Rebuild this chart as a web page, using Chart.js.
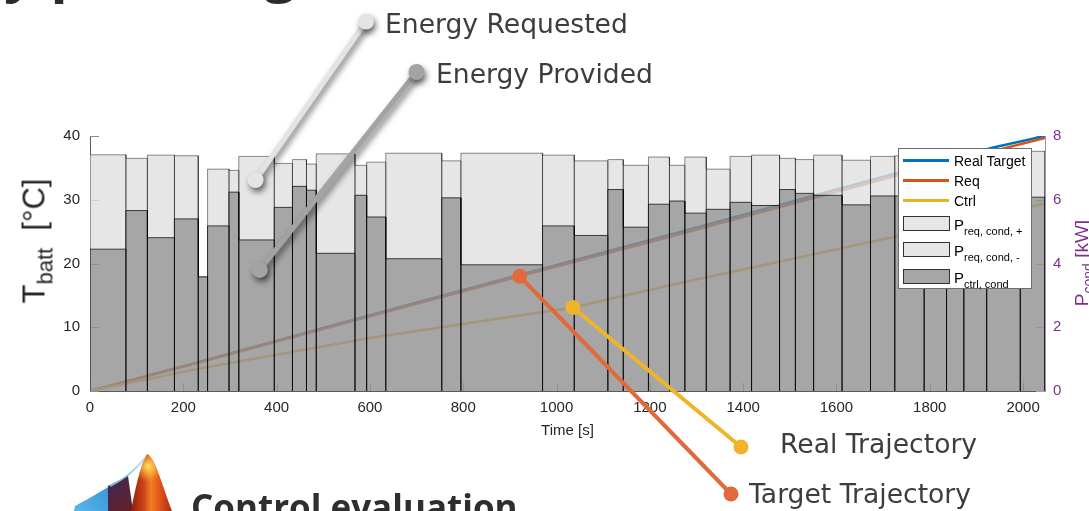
<!DOCTYPE html>
<html>
<head>
<meta charset="utf-8">
<script src="https://cdn.jsdelivr.net/npm/chart.js@4.4.1/dist/chart.umd.min.js"></script>
<style>
  html, body { margin: 0; padding: 0; background: #fff; }
  body { position: relative; width: 1089px; height: 511px; overflow: hidden; }
  #chart { position: absolute; left: 0; top: 0; }
  .slide-title { position: absolute; right: 793px; top: -59px; font: 700 56px 'Open Sans', sans-serif; color: #2b2b2b; line-height: 1; white-space: nowrap; }
  .section { position: absolute; left: 191px; top: 489px; font: 700 35px 'Open Sans', sans-serif; color: #2e2e2e; line-height: 1; white-space: nowrap; }
  .callout { position: absolute; font: 26.6px 'DejaVu Sans', sans-serif; color: #3d3d3d; line-height: 1; white-space: nowrap; }
  .axis-title { position: absolute; white-space: nowrap; line-height: 1; font-family: 'Liberation Sans', Arial, sans-serif; transform: translate(-50%, -50%) rotate(-90deg); }
  .axis-title sub { vertical-align: baseline; position: relative; }
  #ylabL { left: 34px; top: 241px; font-size: 31px; color: #262626; }
  #ylabL sub { font-size: 22px; top: 8px; }
  #ylabR { left: 1081px; top: 263px; font-size: 19px; color: #7E2F8E; }
  #ylabR sub { font-size: 14px; top: 5px; }
  #legend { position: absolute; left: 898px; top: 148px; width: 134px; height: 141px; box-sizing: border-box; border: 1px solid #6d6d6d; background: #fff; }
  .lg-line { position: absolute; left: 903px; width: 46px; height: 3px; }
  .lg-patch { position: absolute; left: 903px; width: 47px; height: 15px; box-sizing: border-box; border: 1.5px solid #333; }
  .lg-text { position: absolute; left: 954px; font: 14px 'Liberation Sans', Arial, sans-serif; color: #000; line-height: 16px; white-space: nowrap; }
  .lg-p { position: absolute; left: 954px; font: 15px 'Liberation Sans', Arial, sans-serif; color: #000; line-height: 15px; white-space: nowrap; }
  .lg-p sub { font-size: 11px; vertical-align: baseline; position: relative; top: 5px; }
  #logo { position: absolute; left: 60px; top: 440px; }
</style>
</head>
<body>
<canvas id="chart" width="1089" height="511"></canvas>
<canvas id="logo" width="120" height="71"></canvas>

<div class="slide-title">Trajectory planning</div>
<div class="section">Control evaluation</div>

<div class="callout" style="left:385px; top:11px;">Energy Requested</div>
<div class="callout" style="left:436px; top:61px;">Energy Provided</div>
<div class="callout" style="left:780px; top:431px;">Real Trajectory</div>
<div class="callout" style="left:749px; top:481px;">Target Trajectory</div>

<div id="ylabL" class="axis-title">T<sub>batt</sub>&nbsp;&nbsp;[°C]</div>
<div id="ylabR" class="axis-title">P<sub>cond</sub> [kW]</div>

<div id="legend"></div>
<div class="lg-line" style="top:158.5px; background:#0072BD;"></div>
<div class="lg-text" style="top:153px;">Real Target</div>
<div class="lg-line" style="top:178.5px; background:#D95319;"></div>
<div class="lg-text" style="top:173px;">Req</div>
<div class="lg-line" style="top:198.5px; background:#EDB120;"></div>
<div class="lg-text" style="top:193px;">Ctrl</div>
<div class="lg-patch" style="top:216px; background:#e6e6e6;"></div>
<div class="lg-p" style="top:216.5px;">P<sub>req, cond, +</sub></div>
<div class="lg-patch" style="top:242px; background:#e6e6e6;"></div>
<div class="lg-p" style="top:242.5px;">P<sub>req, cond, -</sub></div>
<div class="lg-patch" style="top:269px; background:#a6a6a6;"></div>
<div class="lg-p" style="top:269.5px;">P<sub>ctrl, cond</sub></div>

<script>
// Time bins of the conditioning schedule [s]
const binEdges = [0, 77, 123, 181, 232, 252, 298, 319, 395, 434, 464, 485, 568, 593, 634, 754, 795, 970,
  1038, 1110, 1143, 1197, 1242, 1275, 1321, 1372, 1418, 1478, 1512, 1551, 1612, 1673, 1725, 1788, 1836,
  1873, 1922, 1994, 2047];
// Requested conditioning power per bin [kW]
const reqPower = [7.41, 7.30, 7.40, 7.38, 3.58, 6.96, 6.92, 7.36, 7.14, 7.26, 7.12, 7.44, 7.08, 7.18,
  7.46, 7.22, 7.46, 7.40, 7.22, 7.26, 7.08, 7.34, 7.08, 7.34, 6.96, 7.36, 7.40, 7.30, 7.26, 7.40, 7.24,
  7.36, 7.38, 7.36, 7.20, 7.40, 7.32, 7.52];
// Power delivered by the controller per bin [kW]
const ctrlPower = [4.45, 5.66, 4.81, 5.40, 3.58, 5.18, 6.24, 4.74, 5.76, 6.42, 6.30, 4.32, 6.14, 5.46,
  4.15, 6.06, 3.96, 5.18, 4.88, 6.32, 5.14, 5.86, 5.96, 5.58, 5.70, 5.92, 5.82, 6.32, 6.20, 6.14, 5.84,
  6.12, 6.12, 6.10, 6.20, 5.90, 6.00, 6.08];

// Battery temperature trajectories [s] / [°C]
const targetTime = [0, 236, 600, 920, 1243, 1725, 1936, 2047];
const targetTemp = [0, 4.6, 11.9, 18.2, 24.5, 34.1, 38.2, 40.0];
const reqTime = [0, 236, 600, 920, 1243, 1725, 2047];
const reqTemp = [0, 4.5, 11.7, 18.0, 24.2, 33.7, 39.7];
const ctrlTime = [0, 236, 600, 1035, 1243, 1725, 2047];
const ctrlTemp = [0, 3.55, 8.3, 13.1, 16.6, 24.2, 29.4];

// Axis ranges and tick steps
const timeRange = [0, 2047];
const timeStep = 200;
const tempRange = [0, 40];
const tempStep = 10;
const powerRange = [0, 8];
const powerStep = 2;

const FONT = "'Liberation Sans', Arial, sans-serif";
const PURPLE = '#7E2F8E';

// Outline of consecutive bins as one closed step path (each bin drops back to zero)
function binOutline(heights) {
  const pts = [];
  heights.forEach((h, i) => {
    pts.push({x: binEdges[i], y: 0}, {x: binEdges[i], y: h}, {x: binEdges[i + 1], y: h}, {x: binEdges[i + 1], y: 0});
  });
  return pts;
}
const toPoints = (xs, ys) => xs.map((x, i) => ({x, y: ys[i]}));
const plainNumber = v => String(v);

// Short tick marks drawn inside the plot box
const innerTicks = {
  id: 'innerTicks',
  beforeDatasetsDraw(chart) {
    const {ctx, chartArea: a, scales} = chart;
    ctx.save();
    ctx.lineWidth = 1;
    ctx.strokeStyle = '#8c8c8c';
    ctx.beginPath();
    scales.x.ticks.forEach(tk => {
      const px = Math.round(scales.x.getPixelForValue(tk.value)) + 0.5;
      ctx.moveTo(px, a.bottom); ctx.lineTo(px, a.bottom - 8);
    });
    scales.y.ticks.forEach(tk => {
      const py = Math.round(scales.y.getPixelForValue(tk.value)) + 0.5;
      ctx.moveTo(a.left, py); ctx.lineTo(a.left + 9, py);
    });
    ctx.stroke();
    ctx.strokeStyle = '#b493bd';
    ctx.beginPath();
    scales.yP.ticks.forEach(tk => {
      const py = Math.round(scales.yP.getPixelForValue(tk.value)) + 0.5;
      ctx.moveTo(a.right, py); ctx.lineTo(a.right - 9, py);
    });
    ctx.stroke();
    ctx.restore();
  }
};

// Callout pointers: data anchor (time, temperature) -> label dot on the page
const callouts = [
  {anchor: {t: 355, T: 33.1}, label: {x: 366, y: 21.5}, color: '#e4e4e4', shadow: true},
  {anchor: {t: 364, T: 19.0}, label: {x: 416.5, y: 72}, color: '#a3a3a3', shadow: true},
  {anchor: {t: 921, T: 18.0}, label: {x: 731, y: 494}, color: '#e06a3c', shadow: false},
  {anchor: {t: 1035, T: 13.1}, label: {x: 741, y: 447}, color: '#f0b42a', shadow: false}
];
const calloutPlugin = {
  id: 'callouts',
  afterDraw(chart) {
    const {ctx, scales} = chart;
    callouts.forEach(c => {
      const ax = scales.x.getPixelForValue(c.anchor.t);
      const ay = scales.y.getPixelForValue(c.anchor.T);
      ctx.save();
      if (c.shadow) {
        ctx.shadowColor = 'rgba(0,0,0,0.55)';
        ctx.shadowBlur = 6;
        ctx.shadowOffsetX = 2;
        ctx.shadowOffsetY = 4;
      }
      ctx.strokeStyle = c.color;
      ctx.fillStyle = c.color;
      ctx.lineWidth = c.shadow ? 5 : 4;
      ctx.lineCap = 'round';
      ctx.beginPath();
      ctx.moveTo(ax, ay);
      ctx.lineTo(c.label.x, c.label.y);
      ctx.stroke();
      [[ax, ay], [c.label.x, c.label.y]].forEach(([px, py]) => {
        ctx.beginPath();
        ctx.arc(px, py, c.shadow ? 8 : 7.5, 0, Math.PI * 2);
        ctx.fill();
      });
      ctx.restore();
    });
  }
};

new Chart(document.getElementById('chart'), {
  type: 'line',
  data: {
    datasets: [
      {
        label: 'P ctrl, cond',
        yAxisID: 'yP',
        data: binOutline(ctrlPower),
        fill: 'origin',
        backgroundColor: 'rgba(144,144,144,0.8)',
        borderColor: 'rgba(0,0,0,0.72)',
        borderWidth: 1,
        borderJoinStyle: 'miter'
      },
      {
        label: 'P req, cond',
        yAxisID: 'yP',
        data: binOutline(reqPower),
        fill: 0,
        backgroundColor: 'rgba(224,224,224,0.8)',
        borderColor: 'rgba(0,0,0,0.45)',
        borderWidth: 1,
        borderJoinStyle: 'miter'
      },
      {
        label: 'Ctrl',
        yAxisID: 'y',
        data: toPoints(ctrlTime, ctrlTemp),
        borderColor: '#EDB120',
        borderWidth: 2.5,
        fill: false
      },
      {
        label: 'Req',
        yAxisID: 'y',
        data: toPoints(reqTime, reqTemp),
        borderColor: '#D95319',
        borderWidth: 2.5,
        fill: false
      },
      {
        label: 'Real Target',
        yAxisID: 'y',
        data: toPoints(targetTime, targetTemp),
        borderColor: '#0072BD',
        borderWidth: 2.5,
        fill: false
      }
    ]
  },
  options: {
    responsive: false,
    animation: false,
    events: [],
    layout: {padding: {top: 136, left: 0, right: 0, bottom: 0}},
    elements: {point: {radius: 0}, line: {tension: 0}},
    plugins: {legend: {display: false}, tooltip: {enabled: false}},
    scales: {
      x: {
        type: 'linear',
        min: timeRange[0], max: timeRange[1],
        afterFit: s => { s.height = 120; },
        grid: {display: false, drawTicks: false},
        border: {display: true, color: '#5a5a5a', width: 1},
        ticks: {stepSize: timeStep, includeBounds: false, padding: 8, color: '#262626', callback: plainNumber, font: {family: FONT, size: 15}},
        title: {display: true, text: 'Time [s]', color: '#262626', font: {family: FONT, size: 15}, padding: {top: 0, bottom: 71}}
      },
      y: {
        position: 'left',
        min: tempRange[0], max: tempRange[1],
        afterFit: s => { s.width = 90; },
        grid: {display: false, drawTicks: false},
        border: {display: true, color: '#5a5a5a', width: 1},
        ticks: {stepSize: tempStep, padding: 10, color: '#262626', callback: plainNumber, font: {family: FONT, size: 15}}
      },
      yP: {
        position: 'right',
        min: powerRange[0], max: powerRange[1],
        afterFit: s => { s.width = 44; },
        grid: {display: false, drawTicks: false},
        border: {display: true, color: '#a88bb2', width: 1},
        ticks: {stepSize: powerStep, padding: 8, color: PURPLE, callback: plainNumber, font: {family: FONT, size: 15}}
      }
    }
  },
  plugins: [innerTicks, calloutPlugin]
});

// Product logo beside the section heading
(function drawLogo() {
  const g = document.getElementById('logo').getContext('2d');
  // blue membrane
  let grad = g.createLinearGradient(15, 70, 88, 15);
  grad.addColorStop(0, '#58b6e8');
  grad.addColorStop(0.5, '#3594d6');
  grad.addColorStop(1, '#1a64a6');
  g.fillStyle = grad;
  g.beginPath();
  g.moveTo(87, 15);
  g.bezierCurveTo(80, 22, 72, 33, 60, 40);
  g.bezierCurveTo(48, 47, 32, 57, 15, 66);
  g.lineTo(14, 71);
  g.lineTo(48, 71);
  g.lineTo(48, 46);
  g.lineTo(68, 36);
  g.closePath();
  g.fill();

  // dark fold under the membrane
  grad = g.createLinearGradient(46, 40, 72, 71);
  grad.addColorStop(0, '#3a2a55');
  grad.addColorStop(1, '#6a1f25');
  g.fillStyle = grad;
  g.beginPath();
  g.moveTo(48, 46); g.lineTo(68, 36); g.lineTo(73, 71); g.lineTo(48, 71);
  g.closePath();
  g.fill();

  // lighter crease along the membrane edge
  g.strokeStyle = 'rgba(150,215,250,0.8)';
  g.lineWidth = 2;
  g.beginPath();
  g.moveTo(84, 19);
  g.bezierCurveTo(76, 30, 66, 38, 50, 46);
  g.stroke();

  // orange peak
  grad = g.createLinearGradient(68, 0, 114, 0);
  grad.addColorStop(0, '#7a1608');
  grad.addColorStop(0.35, '#d2451a');
  grad.addColorStop(0.5, '#f07d24');
  grad.addColorStop(0.7, '#e2521b');
  grad.addColorStop(1, '#a0280c');
  g.fillStyle = grad;
  g.beginPath();
  g.moveTo(87, 14);
  g.bezierCurveTo(95, 17, 101, 42, 112, 71);
  g.lineTo(71, 71);
  g.bezierCurveTo(75, 50, 80, 26, 87, 14);
  g.closePath();
  g.fill();
  const rg = g.createRadialGradient(88, 26, 1, 88, 28, 14);
  rg.addColorStop(0, 'rgba(255,232,96,0.9)');
  rg.addColorStop(1, 'rgba(255,200,60,0)');
  g.fillStyle = rg;
  g.fill();
})();
</script>
</body>
</html>
